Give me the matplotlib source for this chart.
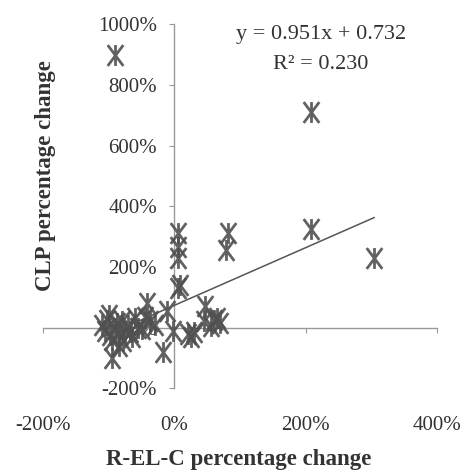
import numpy as np
import matplotlib.pyplot as plt
from matplotlib.path import Path
from matplotlib.ticker import FuncFormatter

# R-EL-C change (%) vs CLP change (%)
rel_c = [-90, 208, 208, 304, 6, 5, 6, 82, 78, 6, 9,
         -41, 47, 45, 60, 70, 55, 65, 20, 30, 25,
         -17, -95, -37, -11, -2,
         -100, -90, -85, -80, -95, -75, -70, -105, -65, -60, -55, -85, -110,
         -50, -45, -30, -98, -78, -88, -68, -102]
clp = [897, 710, 325, 230, 310, 265, 230, 310, 255, 130, 140,
       80, 70, 20, 25, 15, 5, 30, -20, -15, -30,
       -80, -100, 20, 55, -10,
       40, 0, -20, 20, -40, -10, 10, -10, -30, 30, 0, -60, 10,
       -5, 35, 10, -25, -45, 15, -15, 25]

slope = 0.951
intercept = 0.732   # as a fraction -> 73.2 %
r2 = 0.230

x_ticks = [-200, 0, 200, 400]
y_ticks = [-200, 0, 200, 400, 600, 800, 1000]

plt.rcParams['font.family'] = ['Liberation Serif', 'DejaVu Serif']

# excel style asterisk: an X with a vertical bar through it
star = Path([(0, -1), (0, 1), (-0.75, -1), (0.75, 1), (-0.75, 1), (0.75, -1)],
            [Path.MOVETO, Path.LINETO] * 3)

fig = plt.figure(figsize=(4.68, 4.74), dpi=100)
ax = fig.add_axes([0.092, 0.181, 0.842, 0.768])

ax.plot(rel_c, clp, linestyle='none', marker=star, ms=15, mew=2.0,
        color='#505050', alpha=0.9, zorder=3)

# trend line over the data range
xl = np.array([min(rel_c), max(rel_c)])
ax.plot(xl, slope * xl + intercept * 100, color='#555555', lw=1.1, zorder=4)

ax.set_xlim(-200, 400)
ax.set_ylim(-200, 1000)

for s in ['top', 'right']:
    ax.spines[s].set_visible(False)
ax.spines['left'].set_position(('data', 0))
ax.spines['bottom'].set_position(('data', 0))
for s in ['left', 'bottom']:
    ax.spines[s].set_color('#999999')
    ax.spines[s].set_linewidth(1.0)

pct = FuncFormatter(lambda v, p: f'{int(v)}%')
ax.set_yticks(y_ticks)
ax.yaxis.set_major_formatter(pct)
ax.tick_params(axis='y', direction='out', length=3.5, color='#999999',
               labelsize=15, labelcolor='#333333', pad=9)
ax.set_xticks(x_ticks)
ax.tick_params(axis='x', direction='out', length=3.5, color='#999999',
               labelbottom=False)

sec = ax.secondary_xaxis('bottom')
sec.set_xticks(x_ticks)
sec.xaxis.set_major_formatter(pct)
sec.spines['bottom'].set_visible(False)
sec.tick_params(length=0, labelsize=15, labelcolor='#333333', pad=20)

ax.text(0.705, 0.972, f'y = {slope}x + {intercept}', transform=ax.transAxes,
        ha='center', va='center', fontsize=16, color='#333333')
ax.text(0.705, 0.888, f'R² = {r2:.3f}', transform=ax.transAxes,
        ha='center', va='center', fontsize=16, color='#333333')

fig.text(0.51, 0.03, 'R-EL-C percentage change', ha='center', va='center',
         fontsize=16.5, fontweight='bold', color='#333333')
fig.text(0.097, 0.63, 'CLP percentage change', ha='center', va='center',
         rotation=90, fontsize=16.5, fontweight='bold', color='#333333')

fig.savefig('out.png', dpi=100)
